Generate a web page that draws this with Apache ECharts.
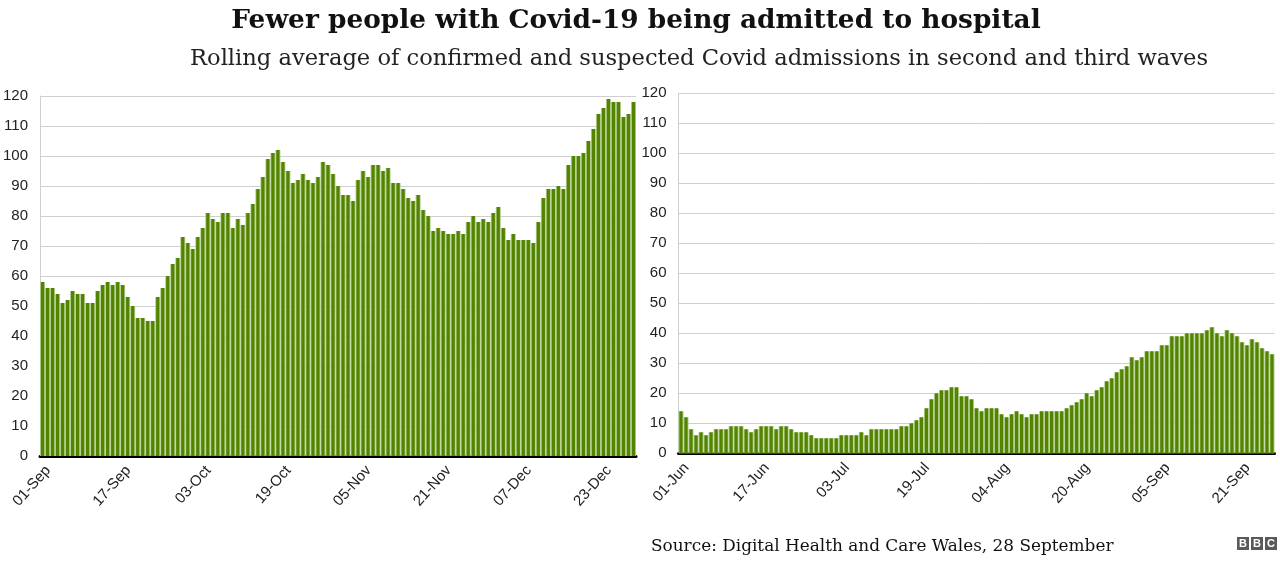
<!DOCTYPE html>
<html>
<head>
<meta charset="utf-8">
<script src="https://cdn.jsdelivr.net/npm/echarts@6/dist/echarts.min.js"></script>
<style>
html,body{margin:0;padding:0;background:#fff;}
#chart{width:1280px;height:574px;}
</style>
</head>
<body>
<div id="chart"></div>
<script>
// ---- data ----
const title = "Fewer people with Covid-19 being admitted to hospital";
const subtitle = "Rolling average of confirmed and suspected Covid admissions in second and third waves";
const source = "Source: Digital Health and Care Wales, 28 September";

const datesWave2 = [
"01-Sep","02-Sep","03-Sep","04-Sep","05-Sep","06-Sep","07-Sep","08-Sep","09-Sep","10-Sep",
"11-Sep","12-Sep","13-Sep","14-Sep","15-Sep","16-Sep","17-Sep","18-Sep","19-Sep","20-Sep",
"21-Sep","22-Sep","23-Sep","24-Sep","25-Sep","26-Sep","27-Sep","28-Sep","29-Sep","30-Sep",
"01-Oct","02-Oct","03-Oct","04-Oct","05-Oct","06-Oct","07-Oct","08-Oct","09-Oct","10-Oct",
"11-Oct","12-Oct","13-Oct","14-Oct","15-Oct","16-Oct","17-Oct","18-Oct","19-Oct","20-Oct",
"21-Oct","22-Oct","23-Oct","24-Oct","26-Oct","27-Oct","28-Oct","29-Oct","30-Oct","31-Oct",
"01-Nov","02-Nov","03-Nov","04-Nov","05-Nov","06-Nov","07-Nov","08-Nov","09-Nov","10-Nov",
"11-Nov","12-Nov","13-Nov","14-Nov","15-Nov","16-Nov","17-Nov","18-Nov","19-Nov","20-Nov",
"21-Nov","22-Nov","23-Nov","24-Nov","25-Nov","26-Nov","27-Nov","28-Nov","29-Nov","30-Nov",
"01-Dec","02-Dec","03-Dec","04-Dec","05-Dec","06-Dec","07-Dec","08-Dec","09-Dec","10-Dec",
"11-Dec","12-Dec","13-Dec","14-Dec","15-Dec","16-Dec","17-Dec","18-Dec","19-Dec","20-Dec",
"21-Dec","22-Dec","23-Dec","24-Dec","25-Dec","26-Dec","27-Dec","28-Dec","29-Dec"
];
const admissionsWave2 = [
58,56,56,54,51,52,55,54,54,51,
51,55,57,58,57,58,57,53,50,46,
46,45,45,53,56,60,64,66,73,71,
69,73,76,81,79,78,81,81,76,79,
77,81,84,89,93,99,101,102,98,95,
91,92,94,92,91,93,98,97,94,90,
87,87,85,92,95,93,97,97,95,96,
91,91,89,86,85,87,82,80,75,76,
75,74,74,75,74,78,80,78,79,78,
81,83,76,72,74,72,72,72,71,78,
86,89,89,90,89,97,100,100,101,105,
109,114,116,119,118,118,113,114,118
];

const datesWave3 = [
"01-Jun","02-Jun","03-Jun","04-Jun","05-Jun","06-Jun","07-Jun","08-Jun","09-Jun","10-Jun",
"11-Jun","12-Jun","13-Jun","14-Jun","15-Jun","16-Jun","17-Jun","18-Jun","19-Jun","20-Jun",
"21-Jun","22-Jun","23-Jun","24-Jun","25-Jun","26-Jun","27-Jun","28-Jun","29-Jun","30-Jun",
"01-Jul","02-Jul","03-Jul","04-Jul","05-Jul","06-Jul","07-Jul","08-Jul","09-Jul","10-Jul",
"11-Jul","12-Jul","13-Jul","14-Jul","15-Jul","16-Jul","17-Jul","18-Jul","19-Jul","20-Jul",
"21-Jul","22-Jul","23-Jul","24-Jul","25-Jul","26-Jul","27-Jul","28-Jul","29-Jul","30-Jul",
"31-Jul","01-Aug","02-Aug","03-Aug","04-Aug","05-Aug","06-Aug","07-Aug","08-Aug","09-Aug",
"10-Aug","11-Aug","12-Aug","13-Aug","14-Aug","15-Aug","16-Aug","17-Aug","18-Aug","19-Aug",
"20-Aug","21-Aug","22-Aug","23-Aug","24-Aug","25-Aug","26-Aug","27-Aug","28-Aug","29-Aug",
"30-Aug","31-Aug","01-Sep","02-Sep","03-Sep","04-Sep","05-Sep","06-Sep","07-Sep","08-Sep",
"09-Sep","10-Sep","11-Sep","12-Sep","13-Sep","14-Sep","15-Sep","16-Sep","17-Sep","18-Sep",
"19-Sep","20-Sep","21-Sep","22-Sep","23-Sep","24-Sep","25-Sep","26-Sep","27-Sep"
];
const admissionsWave3 = [
14,12,8,6,7,6,7,8,8,8,
9,9,9,8,7,8,9,9,9,8,
9,9,8,7,7,7,6,5,5,5,
5,5,6,6,6,6,7,6,8,8,
8,8,8,8,9,9,10,11,12,15,
18,20,21,21,22,22,19,19,18,15,
14,15,15,15,13,12,13,14,13,12,
13,13,14,14,14,14,14,15,16,17,
18,20,19,21,22,24,25,27,28,29,
32,31,32,34,34,34,36,36,39,39,
39,40,40,40,40,41,42,40,39,41,
40,39,37,36,38,37,35,34,33
];

const yTicks = [0,10,20,30,40,50,60,70,80,90,100,110,120];

// ---- styles ----
const DARK = '#528400';
const LIGHT = '#b3cd8e';
const labelFont = '"Liberation Sans", Arial, sans-serif';
const serif = '"DejaVu Serif", Georgia, serif';

function yAxisCfg(grid){
  return {
    type:'value', gridIndex:grid, min:yTicks[0], max:yTicks[yTicks.length-1], interval:yTicks[1]-yTicks[0],
    axisLine:{show:true, lineStyle:{color:'#cfcfcf', width:1}},
    axisTick:{show:false},
    splitLine:{lineStyle:{color:'#cfcfcf', width:1}},
    axisLabel:{color:'#222', fontSize:15, fontFamily:labelFont, margin:12}
  };
}
function xAxisCfg(grid, cats, visible){
  return {
    type:'category', gridIndex:grid, data:cats, show:visible,
    axisLine:{show:true, onZero:false, lineStyle:{color:'#000', width:3}},
    axisTick:{show:false},
    axisLabel:{color:'#222', fontSize:15, fontFamily:labelFont, rotate:48, interval:15, margin:7, verticalAlign:'top'}
  };
}

const chart = echarts.init(document.getElementById('chart'), null, {renderer:'canvas'});
chart.setOption({
  animation:false,
  backgroundColor:'#fff',
  title:[
    {text:title, left:631, top:3, textAlign:'center',
     textStyle:{fontFamily:serif, fontWeight:'bold', fontSize:26.4, color:'#111'}},
    {text:subtitle, left:694, top:43, textAlign:'center',
     textStyle:{fontFamily:serif, fontWeight:'normal', fontSize:22.6, color:'#222'}},
    {text:source, left:646, top:533,
     textStyle:{fontFamily:serif, fontWeight:'normal', fontSize:16.9, color:'#111'}}
  ],
  grid:[
    {left:39, top:96, width:597, height:360},
    {left:678.5, top:93.3, width:596, height:360}
  ],
  xAxis:[
    xAxisCfg(0, datesWave2, true),
    xAxisCfg(1, datesWave3, true),
    xAxisCfg(0, datesWave2, false),
    xAxisCfg(1, datesWave3, false)
  ],
  yAxis:[yAxisCfg(0), yAxisCfg(1), Object.assign(yAxisCfg(0),{show:false}), Object.assign(yAxisCfg(1),{show:false})],
  series:[
    {type:'bar', xAxisIndex:2, yAxisIndex:2, data:admissionsWave2, barWidth:'100%', itemStyle:{color:LIGHT}, z:1, silent:true},
    {type:'bar', xAxisIndex:3, yAxisIndex:3, data:admissionsWave3, barWidth:'100%', itemStyle:{color:LIGHT}, z:1, silent:true},
    {type:'bar', xAxisIndex:0, yAxisIndex:0, data:admissionsWave2, barWidth:'64%', itemStyle:{color:DARK}, z:2},
    {type:'bar', xAxisIndex:1, yAxisIndex:1, data:admissionsWave3, barWidth:'64%', itemStyle:{color:DARK}, z:2}
  ],
  graphic:[
    {type:'group', left:1237, top:537, children:[
      {type:'rect', shape:{x:0,y:0,width:12,height:13}, style:{fill:'#5a5a5a'}},
      {type:'rect', shape:{x:14,y:0,width:12,height:13}, style:{fill:'#5a5a5a'}},
      {type:'rect', shape:{x:28,y:0,width:12,height:13}, style:{fill:'#5a5a5a'}},
      {type:'text', x:6, y:7, style:{text:'B', fill:'#fff', font:'bold 11px "Liberation Sans", Arial', textAlign:'center', textVerticalAlign:'middle'}},
      {type:'text', x:20, y:7, style:{text:'B', fill:'#fff', font:'bold 11px "Liberation Sans", Arial', textAlign:'center', textVerticalAlign:'middle'}},
      {type:'text', x:34, y:7, style:{text:'C', fill:'#fff', font:'bold 11px "Liberation Sans", Arial', textAlign:'center', textVerticalAlign:'middle'}}
    ]}
  ]
});
</script>
</body>
</html>
